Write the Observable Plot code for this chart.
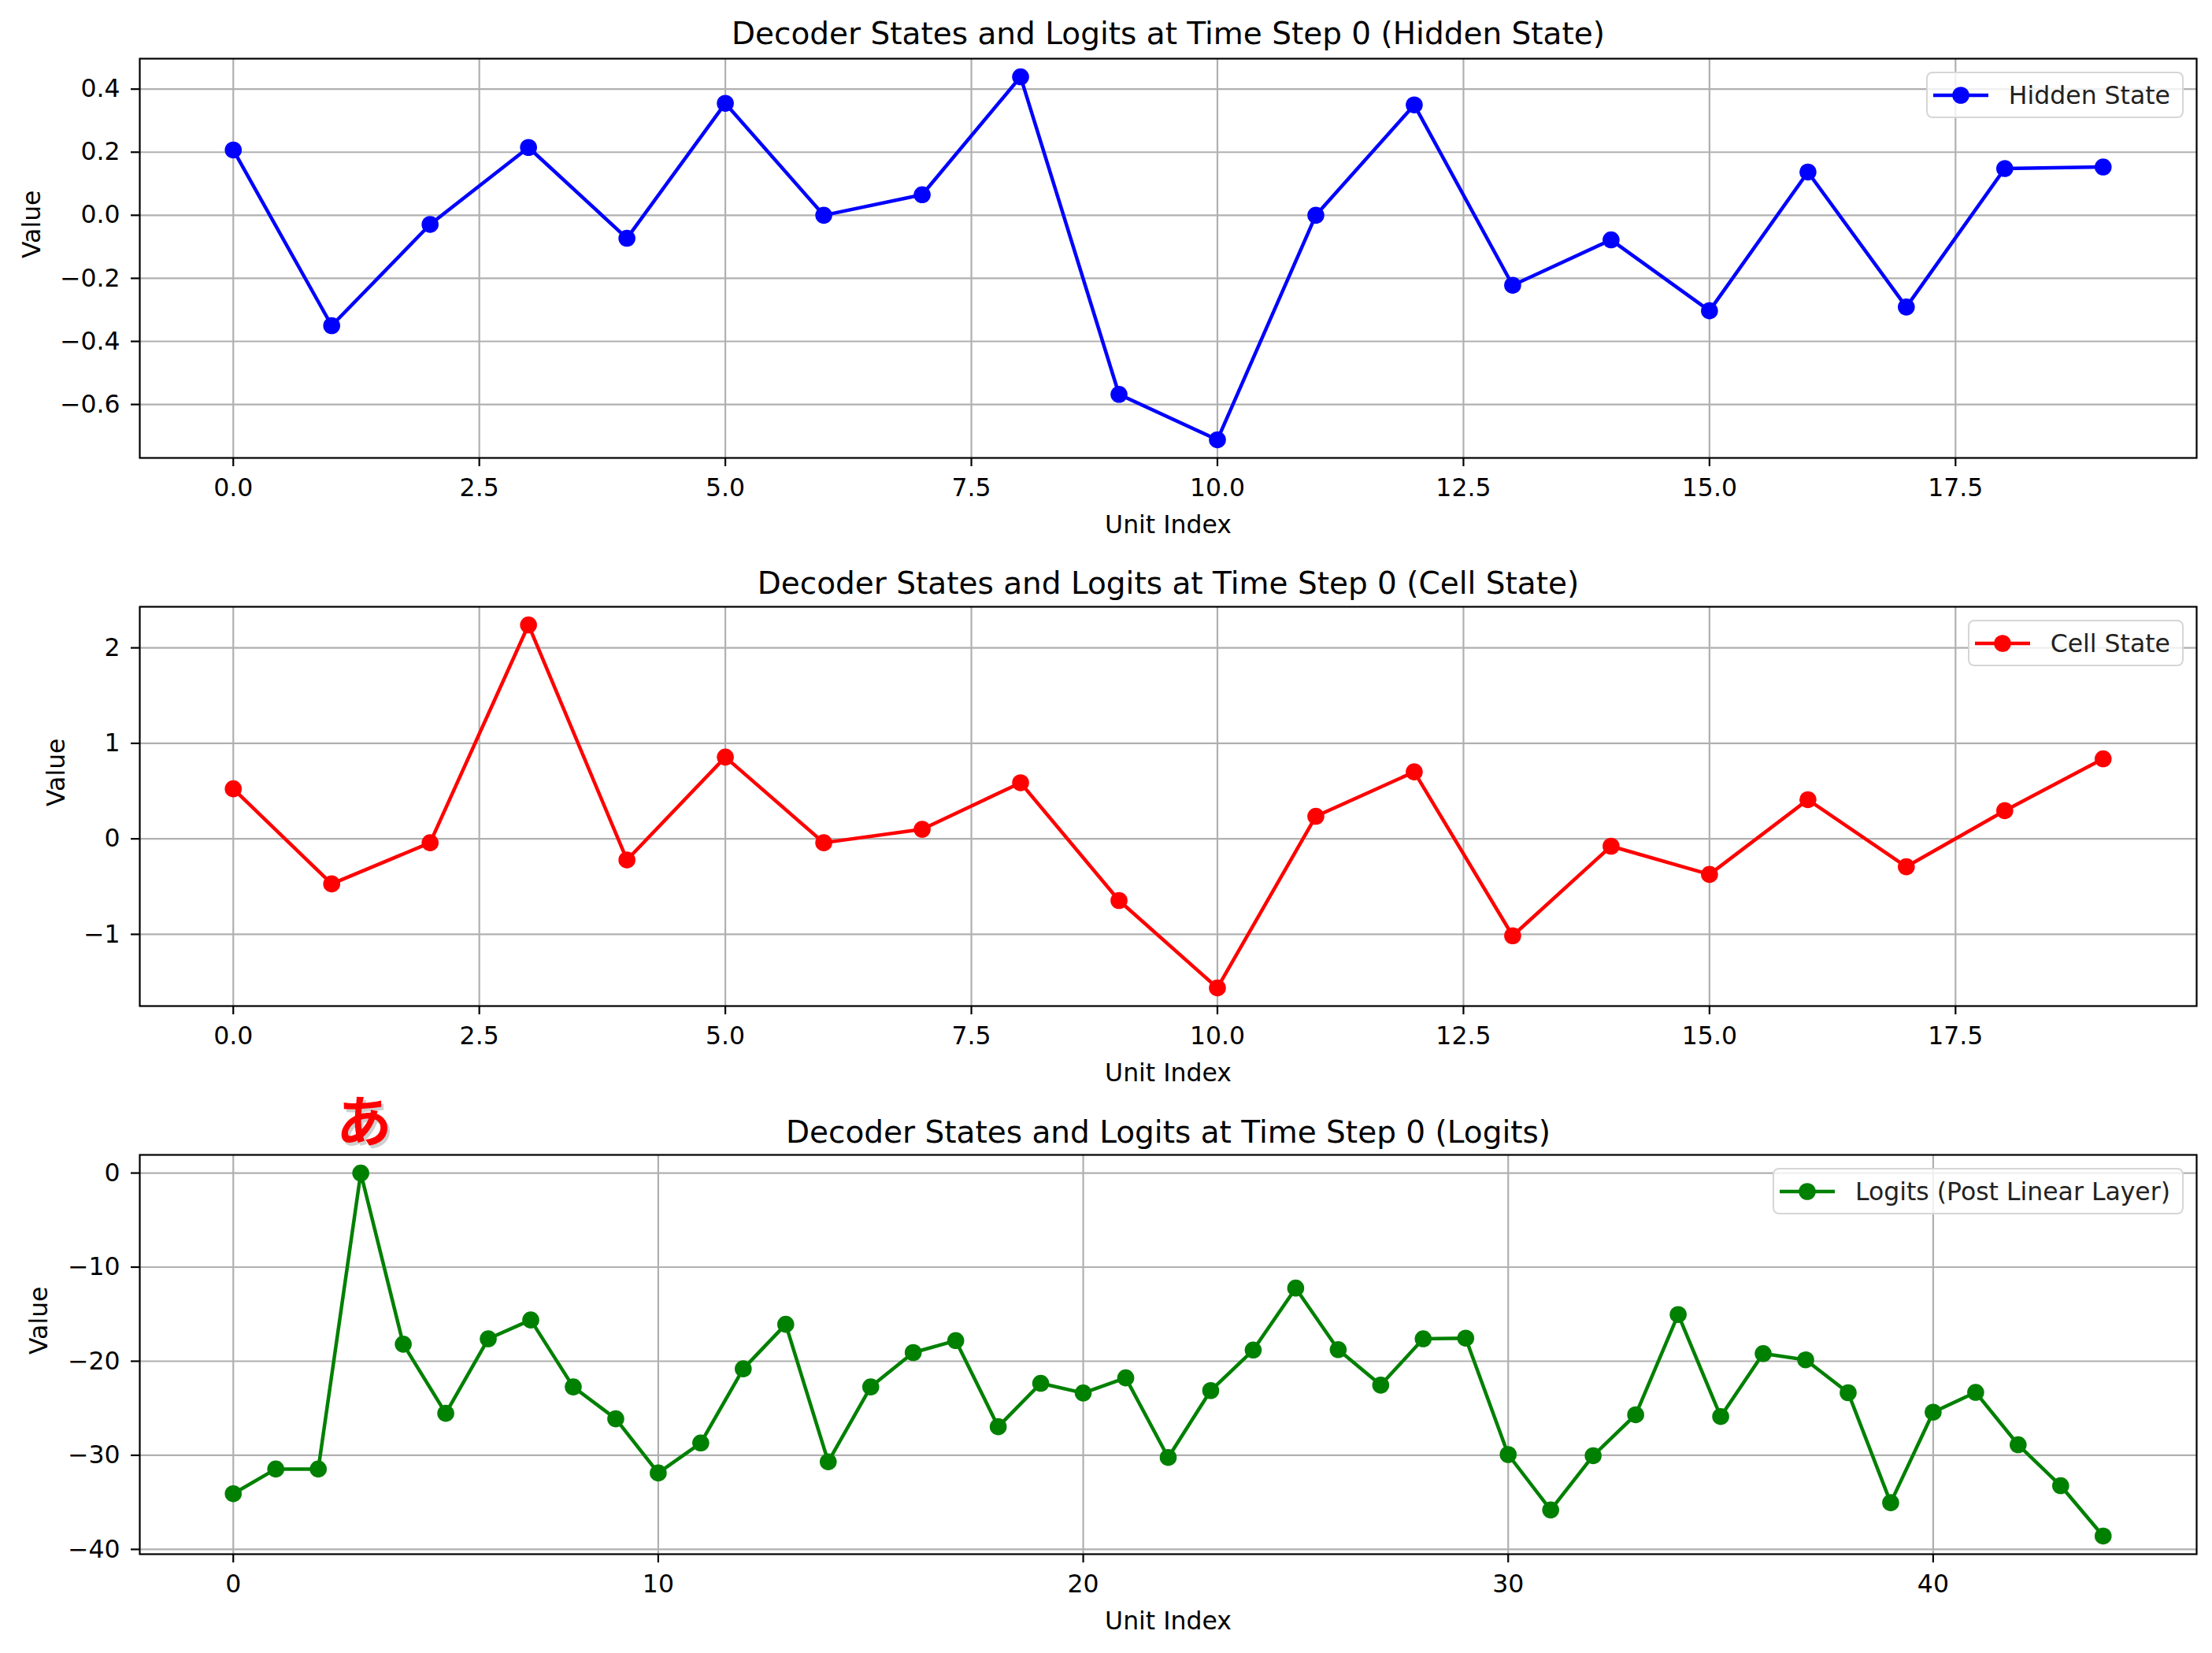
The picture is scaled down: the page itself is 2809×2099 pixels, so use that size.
<!DOCTYPE html>
<html>
<head>
<meta charset="utf-8">
<script src="https://cdn.jsdelivr.net/npm/d3@7"></script>
<script src="https://cdn.jsdelivr.net/npm/@observablehq/plot@0.6"></script>
<style>
  html, body { margin: 0; padding: 0; background: #fff; }
  #page { position: relative; width: 2809px; height: 2099px; background: #fff; font-family: "DejaVu Sans", sans-serif; overflow: hidden; }
  .panel { position: absolute; left: 0; width: 2809px; }
  .panel svg { display: block; }
  .legend { position: absolute; right: 36px; height: 59px; display: flex; align-items: center;
            background: rgba(255,255,255,0.8); border: 2.5px solid #d6d6d6; border-radius: 8px;
            padding: 0 15px 0 6px; box-sizing: border-box; font-size: 31.5px; color: #222; font-family: "DejaVu Sans", sans-serif; }
  .legend svg { margin-right: 25px; }
</style>
</head>
<body>
<div id="page"></div>
<script>
// ---- Data ----
const hiddenIndex = [0,1,2,3,4,5,6,7,8,9,10,11,12,13,14,15,16,17,18,19];
const hiddenValues = [0.207,-0.350,-0.029,0.215,-0.073,0.355,0.000,0.065,0.439,-0.568,-0.712,0.000,0.350,-0.222,-0.078,-0.303,0.137,-0.291,0.148,0.153];

const cellIndex = [0,1,2,3,4,5,6,7,8,9,10,11,12,13,14,15,16,17,18,19];
const cellValues = [0.524,-0.472,-0.041,2.240,-0.221,0.856,-0.041,0.100,0.587,-0.646,-1.561,0.236,0.701,-1.015,-0.077,-0.373,0.410,-0.292,0.295,0.838];

const logitIndex = [0,1,2,3,4,5,6,7,8,9,10,11,12,13,14,15,16,17,18,19,20,21,22,23,24,25,26,27,28,29,30,31,32,33,34,35,36,37,38,39,40,41,42,43,44];
const logitValues = [-34.08,-31.46,-31.46,0.0,-18.19,-25.54,-17.62,-15.62,-22.73,-26.12,-31.88,-28.69,-20.81,-16.08,-30.69,-22.73,-19.08,-17.81,-26.96,-22.35,-23.38,-21.77,-30.23,-23.12,-18.81,-12.23,-18.77,-22.54,-17.62,-17.55,-29.92,-35.81,-30.04,-25.69,-15.04,-25.88,-19.19,-19.85,-23.35,-35.04,-25.42,-23.31,-28.88,-33.23,-38.58];

const titles = [
  "Decoder States and Logits at Time Step 0 (Hidden State)",
  "Decoder States and Logits at Time Step 0 (Cell State)",
  "Decoder States and Logits at Time Step 0 (Logits)"
];
const legendLabels = ["Hidden State", "Cell State", "Logits (Post Linear Layer)"];
const colors = ["blue", "red", "green"];

const stateXTicks = [0, 2.5, 5, 7.5, 10, 12.5, 15, 17.5];
const logitXTicks = [0, 10, 20, 30, 40];
const hiddenYTicks = [-0.6, -0.4, -0.2, 0.0, 0.2, 0.4];
const cellYTicks = [-1, 0, 1, 2];
const logitYTicks = [-40, -30, -20, -10, 0];

const annotationX = [3];
const annotationY = [0];
const annotationText = ["あ"];

const xLabel = "Unit Index";
const yLabel = "Value";

// ---- Layout ----
const W = 2809;
const M = {top: 74, right: 20, bottom: 115, left: 177};
const plotH = 507;
const H = M.top + plotH + M.bottom;
const FS = 31.5;
const LW = 4.5;
const R = 10.8;

function padDomain(vals) {
  const [a, b] = d3.extent(vals);
  const p = (b - a) * 0.05;
  return [a - p, b + p];
}

const gridStyle = {stroke: "#b0b0b0", strokeOpacity: 1, strokeWidth: 2.2};
const axisStyle = {tickSize: 11, tickPadding: 15, fontSize: FS, strokeWidth: 2.2, label: null, fill: "black", stroke: "black"};

function makePanel(cfg) {
  const data = cfg.index.map((x, i) => ({index: x, value: cfg.values[i]}));
  const marks = [
    Plot.gridX({...gridStyle, ticks: cfg.xTicks}),
    Plot.gridY({...gridStyle, ticks: cfg.yTicks}),
    Plot.axisX({...axisStyle, ticks: cfg.xTicks, tickFormat: d3.format(cfg.xFmt)}),
    Plot.axisY({...axisStyle, tickPadding: 14, ticks: cfg.yTicks, tickFormat: d3.format(cfg.yFmt)}),
    Plot.line(data, {x: "index", y: "value", stroke: cfg.color, strokeWidth: LW}),
    Plot.dot(data, {x: "index", y: "value", r: R, fill: cfg.color, stroke: null}),
    Plot.frame({stroke: "black", strokeWidth: 2.2}),
    Plot.text([cfg.title], {text: d => d, frameAnchor: "top", lineAnchor: "bottom", dy: cfg.titleDy, fontSize: 39, fill: "black"}),
    Plot.text([xLabel], {text: d => d, frameAnchor: "bottom", lineAnchor: "top", dy: 73, fontSize: FS, fill: "black"}),
    Plot.text([yLabel], {text: d => d, frameAnchor: "left", dx: cfg.valueDx, rotate: -90, fontSize: FS, fill: "black"})
  ];
  if (cfg.annotations) {
    const ann = cfg.annotations;
    marks.push(Plot.text(ann, {x: "x", y: "y", text: "t", dx: 7, dy: -58, fontSize: 70, fontWeight: "bold",
      fontFamily: "Noto Sans CJK JP", fill: "#888", fillOpacity: 0.4}));
    marks.push(Plot.text(ann, {x: "x", y: "y", text: "t", dx: 4, dy: -62, fontSize: 70, fontWeight: "bold",
      fontFamily: "Noto Sans CJK JP", fill: "red"}));
  }
  const svg = Plot.plot({
    width: W, height: H,
    marginTop: M.top, marginRight: M.right, marginBottom: M.bottom, marginLeft: M.left,
    style: {fontFamily: "DejaVu Sans", fontSize: FS + "px", background: "white", color: "black", overflow: "visible"},
    x: {domain: padDomain(cfg.index), label: null},
    y: {domain: padDomain(cfg.values), label: null},
    marks
  });
  const wrap = document.createElement("div");
  wrap.className = "panel";
  wrap.style.top = cfg.top + "px";
  wrap.style.height = H + "px";
  wrap.appendChild(svg);

  const leg = document.createElement("div");
  leg.className = "legend";
  leg.style.top = (M.top + 17) + "px";
  leg.innerHTML = `<svg width="72" height="30" viewBox="0 0 72 30"><line x1="1" y1="15" x2="71" y2="15" stroke="${cfg.color}" stroke-width="${LW}"/><circle cx="36" cy="15" r="${R}" fill="${cfg.color}"/></svg><span>${cfg.legend}</span>`;
  wrap.appendChild(leg);
  document.getElementById("page").appendChild(wrap);
}

makePanel({top: 0, index: hiddenIndex, values: hiddenValues, color: colors[0], title: titles[0], legend: legendLabels[0],
  xTicks: stateXTicks, xFmt: ".1f", yTicks: hiddenYTicks, yFmt: ".1f", valueDx: -137, titleDy: -19});
makePanel({top: 696, index: cellIndex, values: cellValues, color: colors[1], title: titles[1], legend: legendLabels[1],
  xTicks: stateXTicks, xFmt: ".1f", yTicks: cellYTicks, yFmt: "d", valueDx: -106, titleDy: -17});
makePanel({top: 1392, index: logitIndex, values: logitValues, color: colors[2], title: titles[2], legend: legendLabels[2],
  xTicks: logitXTicks, xFmt: "d", yTicks: logitYTicks, yFmt: "d", valueDx: -128, titleDy: -16,
  annotations: annotationX.map((x, i) => ({x, y: annotationY[i], t: annotationText[i]}))});
</script>
</body>
</html>
